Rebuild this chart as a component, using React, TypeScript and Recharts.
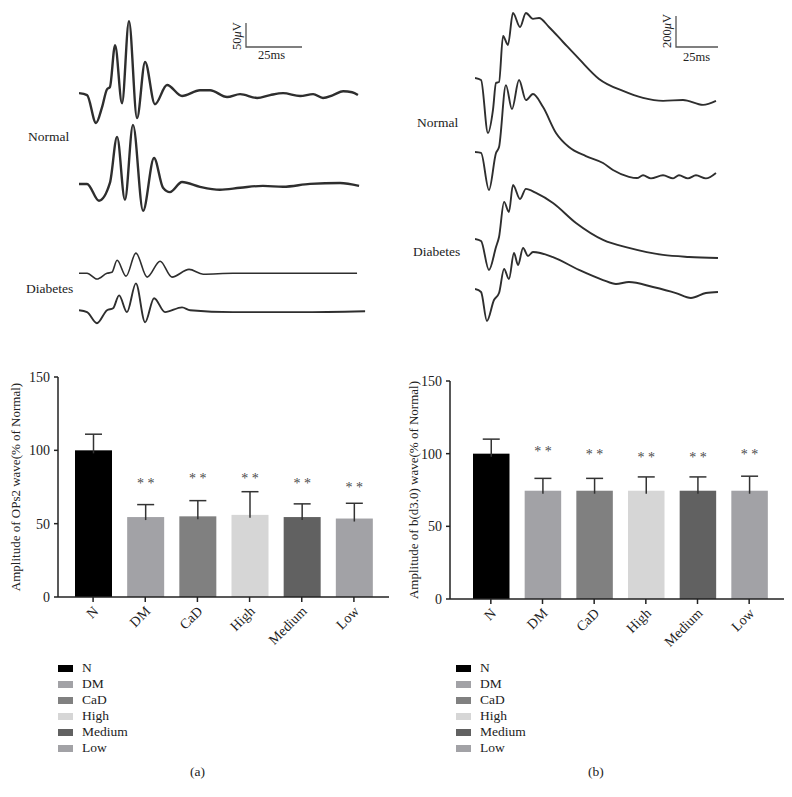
import React from 'react';
import { LineChart, Line, XAxis, YAxis, ComposedChart, Bar, Cell } from 'recharts';

const serif = '"Liberation Serif", "Times New Roman", serif';

// groups shared by both bar charts
const groups = ['N', 'DM', 'CaD', 'High', 'Medium', 'Low'];
const groupColors = ['#000000', '#a2a2a6', '#808080', '#d6d6d6', '#616161', '#a2a2a6'];
const yTicks = [0, 50, 100, 150];

// (a) OPs2 amplitude, % of normal
const ops2Means = [100, 54.5, 55, 56, 54.5, 53.5];
const ops2Errors = [11, 8.5, 10.7, 15.8, 9, 10.4];
const ops2Stars = [null, 79, 82.5, 82.5, 79, 76.5];

// (b) b-wave amplitude, % of normal
const bMeans = [100, 74.5, 74.5, 74.5, 74.5, 74.5];
const bErrors = [10, 8.5, 8.5, 9.5, 9.5, 10];
const bStars = [null, 103, 101.4, 99, 99, 101.4];

// OPs traces [ms, uV]
const opsNormal1: [number, number][] = [[0, 0], [3.6, -4], [7.6, -62], [10.3, -29], [12.5, 8], [13.8, 12.5], [16.1, 100], [19.2, -21], [22.3, 150], [25.9, -52], [29.5, 65], [33.9, -23], [39.3, 17], [46, -6], [54, 6], [58.5, 6], [66.1, -8], [71.9, -2], [79.5, -10], [85.3, -4], [91.1, 0], [98.7, -6], [104.5, -2], [108.9, -10], [113.4, -4], [117.9, 4], [121.9, 2], [124.5, -4]];
const opsNormal2: [number, number][] = [[0, 0], [3.6, 0], [8.9, -35], [13.8, 2], [17, 98], [20.5, -33], [24.1, 123], [28.6, -56], [33.5, 54], [37.5, -8], [40.6, -17], [46, 4], [54, -6], [62.9, -12], [71.9, -8], [82.1, -4], [91.1, -6], [103.1, 0], [116.5, 2], [125, -4]];
const opsDiabetes1: [number, number][] = [[0, 0], [3.6, 0], [8, -12], [12.5, 0], [14.7, 2], [17, 27], [21, -6], [25.4, 42], [30.4, -8], [36.2, 25], [41.5, -8], [49.1, 8], [55.4, -2], [68.7, 0], [124.1, 0]];
const opsDiabetes2: [number, number][] = [[0, 0], [3.6, -4], [8, -27], [12.5, 0], [15.2, 4], [17.9, 31], [21.4, -4], [25.4, 56], [29.5, -25], [33.5, 25], [38.4, -4], [46, 6], [49.6, 0], [68.7, -4], [98.7, -4], [127.7, -2]];

// dark-adapted 3.0 traces [ms, uV]
const bNormal1: [number, number][] = [[0, 0], [3.6, -13], [7.7, -355], [10.7, -206], [12.5, -32], [14.3, -26], [16.7, 271], [19.6, 213], [22.6, 419], [26.8, 329], [30.3, 419], [34.5, 381], [38.1, 387], [44, 329], [52.4, 232], [61.9, 123], [73.8, -6], [88.1, -84], [100, -129], [111.9, -148], [123.8, -142], [135.7, -174], [143.4, -148]];
const bNormal2: [number, number][] = [[0, 0], [3.6, -6], [8.3, -245], [12.5, -6], [14.3, 32], [18.4, 432], [22, 277], [26.2, 465], [30.3, 335], [34.5, 374], [40.5, 290], [48.2, 123], [55.9, 32], [66, -26], [76.2, -71], [82.1, -116], [91.6, -160], [96.4, -168], [100, -150], [104.7, -170], [111.9, -150], [117.9, -170], [121.4, -150], [126.7, -170], [131.5, -150], [137.4, -170], [143.4, -135]];
const bDiabetes1: [number, number][] = [[0, 0], [3.6, -13], [8.3, -200], [12.5, -52], [14.3, 13], [17.3, 239], [20.2, 174], [22.6, 348], [26.8, 258], [30.3, 323], [36.3, 297], [46.4, 232], [60.1, 103], [76.2, -6], [91.6, -58], [111.9, -103], [127.3, -116], [144.6, -123]];
const bDiabetes2: [number, number][] = [[0, 0], [3.6, -19], [7.1, -206], [11.3, -71], [14.3, -26], [17.3, 129], [20.2, 65], [23.2, 232], [25.6, 155], [28.6, 265], [31.5, 213], [34.5, 239], [46.4, 206], [61.9, 123], [76.2, 58], [83.9, 32], [91.6, 45], [105.9, 13], [119.6, -26], [128.5, -58], [137.4, -26], [144.6, -19]];

// vertical stacking of the traces (display offsets)
const opsOffsets = [-194, -383, -569, -646];
const bOffsets = [-503, -981, -1542, -1865];

const toPoints = (trace: [number, number][], offset: number) =>
  trace.map(([t, v]) => ({ t, v: v + offset }));

function TracePanel({ left, width, tMax, vMin, traces, offsets, widths }: any) {
  return (
    <div style={{ position: 'absolute', left, top: 0 }}>
      <LineChart width={width} height={340} margin={{ top: 0, right: 0, bottom: 0, left: 0 }}>
        <XAxis type="number" dataKey="t" domain={[0, tMax]} hide allowDataOverflow />
        <YAxis type="number" domain={[vMin, 0]} hide allowDataOverflow />
        {traces.map((tr: [number, number][], i: number) => (
          <Line
            key={i}
            data={toPoints(tr, offsets[i])}
            dataKey="v"
            type="monotone"
            dot={false}
            stroke="#2e2e2e"
            strokeWidth={widths[i]}
            strokeLinejoin="round"
            isAnimationActive={false}
          />
        ))}
      </LineChart>
    </div>
  );
}

const RotTick = (props: any) => {
  const { x, y, payload } = props;
  const tx = x + 6;
  const ty = y + 8;
  return (
    <text x={tx} y={ty} transform={`rotate(-45, ${tx}, ${ty})`} textAnchor="end"
      fontFamily={serif} fontSize={14} fill="#222">
      {payload.value}
    </text>
  );
};

const BarWithError = (props: any) => {
  const { x, y, width, height, fill, payload } = props;
  const pxPerUnit = height / payload.mean;
  const errY = y - payload.err * pxPerUnit;
  const cx = x + width / 2;
  return (
    <g>
      <rect x={x} y={y} width={width} height={height} fill={fill} />
      <line x1={cx} x2={cx} y1={y + 3} y2={errY} stroke="#333" strokeWidth={1.5} />
      <line x1={cx - 8.5} x2={cx + 8.5} y1={errY} y2={errY} stroke="#333" strokeWidth={1.5} />
      {payload.star != null && (
        <text x={cx} y={y + height - payload.star * pxPerUnit + 7} textAnchor="middle"
          fontFamily={serif} fontSize={14} fill="#4a4a4a">
          * *
        </text>
      )}
    </g>
  );
};

function AmpChart({ left, width, means, errors, stars, yLabel, margin, yAxisWidth, xAxisHeight, xPad, barSize }: any) {
  const rows = groups.map((g, i) => ({ name: g, mean: means[i], err: errors[i], star: stars[i] }));
  return (
    <div style={{ position: 'absolute', left, top: 360 }}>
      <ComposedChart width={width} height={300} data={rows} margin={margin}>
        <XAxis dataKey="name" height={xAxisHeight} padding={xPad} interval={0} tick={<RotTick />}
          tickSize={5} axisLine={{ stroke: '#222', strokeWidth: 1.5 }} tickLine={{ stroke: '#222', strokeWidth: 1.5 }} />
        <YAxis domain={[0, 150]} ticks={yTicks} width={yAxisWidth} tickSize={4} tickMargin={4}
          axisLine={{ stroke: '#222', strokeWidth: 1.5 }} tickLine={{ stroke: '#222', strokeWidth: 1.5 }}
          tick={{ fontSize: 14, fill: '#222', fontFamily: serif }}
          label={{ value: yLabel, angle: -90, position: 'insideLeft', offset: 5,
            style: { textAnchor: 'middle', fontSize: 13, fill: '#222', fontFamily: serif } }} />
        <Bar dataKey="mean" barSize={barSize} shape={<BarWithError />} isAnimationActive={false}>
          {rows.map((r, i) => <Cell key={r.name} fill={groupColors[i]} />)}
        </Bar>
      </ComposedChart>
    </div>
  );
}

function Legend({ left }: { left: number }) {
  return (
    <div style={{ position: 'absolute', left, top: 660, fontFamily: serif, fontSize: 13.5, color: '#222' }}>
      {groups.map((g, i) => (
        <div key={g} style={{ height: 16, display: 'flex', alignItems: 'center' }}>
          <span style={{ width: 15, height: 7, background: groupColors[i], marginRight: 9, display: 'inline-block' }} />
          <span>{g}</span>
        </div>
      ))}
    </div>
  );
}

const txt = (left: number, top: number, s: string) => (
  <div style={{ position: 'absolute', left, top, fontFamily: serif, fontSize: 13.5, color: '#222', lineHeight: '16px' }}>{s}</div>
);

export default function App() {
  return (
    <div style={{ position: 'absolute', left: 0, top: 0, width: 792, height: 797, background: '#fff' }}>
      <TracePanel left={79} width={287} tMax={128.1} vMin={-708}
        traces={[opsNormal1, opsNormal2, opsDiabetes1, opsDiabetes2]} offsets={opsOffsets} widths={[2.4, 2.4, 1.6, 1.9]} />
      <TracePanel left={475} width={245} tMax={145.8} vMin={-2194}
        traces={[bNormal1, bNormal2, bDiabetes1, bDiabetes2]} offsets={bOffsets} widths={[1.9, 1.9, 1.9, 1.9]} />

      {txt(28, 129, 'Normal')}
      {txt(26, 281, 'Diabetes')}
      {txt(417, 115, 'Normal')}
      {txt(413, 244, 'Diabetes')}

      <svg width={792} height={360} style={{ position: 'absolute', left: 0, top: 0 }}>
        <g stroke="#555" strokeWidth={1.3} fill="none">
          <polyline points="246,23 246,47 302,47" />
          <polyline points="676,16 676,47 718,47" />
        </g>
        <g fontFamily={serif} fontSize={12.5} fill="#222">
          <text x={241} y={36} transform="rotate(-90, 241, 36)" textAnchor="middle">50<tspan fontStyle="italic">μ</tspan>V</text>
          <text x={258} y={59}>25ms</text>
          <text x={671} y={31} transform="rotate(-90, 671, 31)" textAnchor="middle">200<tspan fontStyle="italic">μ</tspan>V</text>
          <text x={683} y={61}>25ms</text>
        </g>
      </svg>

      <AmpChart left={0} width={400} means={ops2Means} errors={ops2Errors} stars={ops2Stars}
        yLabel="Amplitude of OPs2 wave(% of Normal)"
        margin={{ top: 17, right: 11, bottom: 0, left: 10 }} yAxisWidth={48} xAxisHeight={63}
        xPad={{ left: 9, right: 9 }} barSize={37} />
      <AmpChart left={400} width={392} means={bMeans} errors={bErrors} stars={bStars}
        yLabel="Amplitude of b(d3.0) wave(% of Normal)"
        margin={{ top: 21, right: 8, bottom: 0, left: 8 }} yAxisWidth={42} xAxisHeight={61}
        xPad={{ left: 15, right: 9 }} barSize={36.5} />

      <Legend left={58} />
      <Legend left={456} />
      {txt(190, 764, '(a)')}
      {txt(588, 764, '(b)')}
    </div>
  );
}
